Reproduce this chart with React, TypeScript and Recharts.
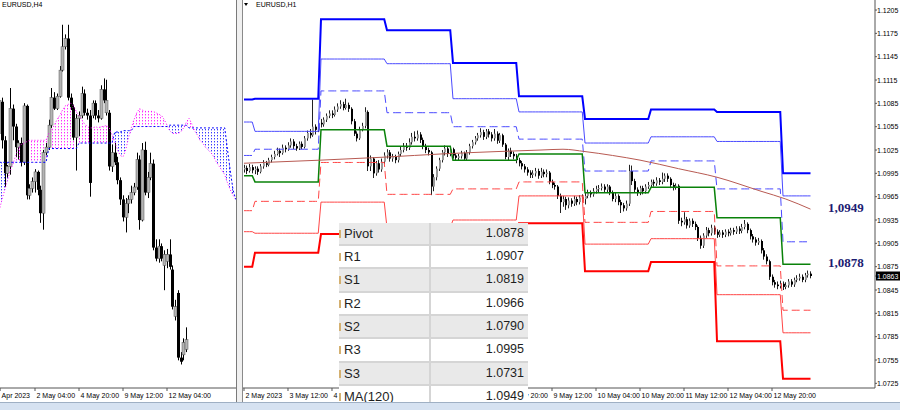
import React from 'react';
import { ComposedChart, Bar, Line, Area, XAxis, YAxis } from 'recharts';

// ---------- EURUSD H1 (right panel) ----------
// bars start at 2 May 20:00, one per hour, last bar 15 May 10:00
const h1FirstOpen = 1.1;
const h1Close = [
  1.1002, 1.0998, 1.1003, 1.0999, 1.1001, 1.0997, 1.1004, 1.1008, 1.1006, 1.1012,
  1.1016, 1.1020, 1.1024, 1.1021, 1.1028, 1.1026, 1.1031, 1.1036, 1.1030, 1.1027,
  1.1033, 1.1029, 1.1040, 1.1047, 1.1044, 1.1055, 1.1051, 1.1060, 1.1058, 1.1064,
  1.1069, 1.1072, 1.1070, 1.1077, 1.1081, 1.1084, 1.1079, 1.1083, 1.1078, 1.1062,
  1.1046, 1.1040, 1.1052, 1.1056, 1.1074, 1.1004, 1.1014, 1.0995, 1.1008, 1.1000,
  1.1010, 1.1018, 1.1022, 1.1014, 1.1016, 1.1012, 1.1020, 1.1025, 1.1030, 1.1028,
  1.1035, 1.1042, 1.1040, 1.1045, 1.1038, 1.1030, 1.1025, 1.1022, 1.0978, 1.0990,
  1.1001, 1.1012, 1.1022, 1.1027, 1.1020, 1.1026, 1.1018, 1.1015, 1.1017, 1.1021,
  1.1014, 1.1022, 1.1030, 1.1035, 1.1040, 1.1044, 1.1048, 1.1042, 1.1049, 1.1045,
  1.1040, 1.1046, 1.1037, 1.1044, 1.1032, 1.1016, 1.1024, 1.1020, 1.1017, 1.1012,
  1.1008, 1.1004, 1.1000, 1.0996, 1.0993, 1.0995, 1.0998, 1.0992, 1.0997, 1.0994,
  1.0996, 1.0984, 1.0980, 1.0978, 1.0966, 1.0958, 1.0962, 1.0954, 1.0960, 1.0956,
  1.0962, 1.0958, 1.0964, 1.0962, 1.0966, 1.0970, 1.0968, 1.0972, 1.0975, 1.0976,
  1.0978, 1.0974, 1.0978, 1.0970, 1.0962, 1.0966, 1.0958, 1.0954, 1.0950, 1.0956,
  1.0998, 1.0985, 1.0974, 1.0970, 1.0976, 1.0972, 1.0978, 1.0980, 1.0984, 1.0982,
  1.0986, 1.0984, 1.0988, 1.0992, 1.0988, 1.0980, 1.0977, 1.0979, 1.0934, 1.0932,
  1.0936, 1.0928, 1.0934, 1.0930, 1.0926, 1.0912, 1.0902, 1.0915, 1.0922, 1.0918,
  1.0925, 1.0920, 1.0916, 1.0919, 1.0916, 1.0920, 1.0918, 1.0922, 1.0920, 1.0924,
  1.0921, 1.0926, 1.0930, 1.0922, 1.0914, 1.0910, 1.0906, 1.0908, 1.0896, 1.0888,
  1.0882, 1.0862, 1.0855, 1.0852, 1.0850, 1.0853, 1.0849, 1.0851, 1.0856, 1.0852,
  1.0858, 1.0860, 1.0862, 1.0858, 1.0864, 1.0866, 1.0863,
];
const h1High = [
  1.1006, 1.1005, 1.1007, 1.1006, 1.1004, 1.1004, 1.1007, 1.1012, 1.1011, 1.1015,
  1.1019, 1.1024, 1.1028, 1.1027, 1.1032, 1.1031, 1.1035, 1.1040, 1.1039, 1.1033,
  1.1036, 1.1036, 1.1043, 1.1050, 1.1052, 1.1090, 1.1058, 1.1063, 1.1065, 1.1067,
  1.1072, 1.1076, 1.1076, 1.1081, 1.1085, 1.1089, 1.1087, 1.1091, 1.1086, 1.1080,
  1.1065, 1.1049, 1.1055, 1.1060, 1.1080, 1.1076, 1.1018, 1.1016, 1.1011, 1.1012,
  1.1014, 1.1022, 1.1026, 1.1025, 1.1020, 1.1019, 1.1023, 1.1029, 1.1034, 1.1034,
  1.1040, 1.1047, 1.1049, 1.1050, 1.1048, 1.1041, 1.1033, 1.1028, 1.1024, 1.0994,
  1.1004, 1.1015, 1.1025, 1.1031, 1.1030, 1.1029, 1.1028, 1.1021, 1.1020, 1.1024,
  1.1023, 1.1025, 1.1033, 1.1038, 1.1043, 1.1047, 1.1053, 1.1051, 1.1052, 1.1052,
  1.1048, 1.1052, 1.1049, 1.1047, 1.1046, 1.1034, 1.1027, 1.1028, 1.1023, 1.1020,
  1.1015, 1.1011, 1.1007, 1.1003, 1.0999, 1.0999, 1.1002, 1.1001, 1.1002, 1.1000,
  1.1000, 1.0998, 1.0987, 1.0983, 1.0980, 1.0969, 1.0966, 1.0965, 1.0964, 1.0963,
  1.0966, 1.0965, 1.0967, 1.0968, 1.0970, 1.0974, 1.0973, 1.0976, 1.0979, 1.0980,
  1.0982, 1.0981, 1.0981, 1.0980, 1.0973, 1.0970, 1.0968, 1.0961, 1.0957, 1.0960,
  1.1006, 1.1005, 1.0988, 1.0977, 1.0979, 1.0979, 1.0981, 1.0984, 1.0987, 1.0987,
  1.0990, 1.0989, 1.0996, 1.0995, 1.0995, 1.0990, 1.0983, 1.0982, 1.0981, 1.0938,
  1.0945, 1.0939, 1.0937, 1.0937, 1.0933, 1.0928, 1.0915, 1.0918, 1.0926, 1.0925,
  1.0929, 1.0928, 1.0923, 1.0922, 1.0922, 1.0923, 1.0923, 1.0925, 1.0925, 1.0927,
  1.0927, 1.0930, 1.0935, 1.0932, 1.0924, 1.0917, 1.0913, 1.0912, 1.0910, 1.0899,
  1.0891, 1.0884, 1.0865, 1.0858, 1.0856, 1.0857, 1.0856, 1.0855, 1.0859, 1.0859,
  1.0861, 1.0864, 1.0866, 1.0865, 1.0867, 1.0870, 1.0869,
];
const h1Low = [
  1.0996, 1.0994, 1.0996, 1.0995, 1.0994, 1.0993, 1.0995, 1.1001, 1.1003, 1.1004,
  1.1009, 1.1013, 1.1018, 1.1016, 1.1019, 1.1022, 1.1024, 1.1028, 1.1026, 1.1024,
  1.1025, 1.1026, 1.1027, 1.1037, 1.1040, 1.1042, 1.1045, 1.1048, 1.1054, 1.1055,
  1.1061, 1.1066, 1.1066, 1.1068, 1.1074, 1.1078, 1.1076, 1.1077, 1.1074, 1.1058,
  1.1043, 1.1036, 1.1038, 1.1049, 1.1053, 1.0998, 1.0998, 1.0989, 1.0992, 1.0996,
  1.0997, 1.1007, 1.1014, 1.1010, 1.1010, 1.1008, 1.1009, 1.1017, 1.1022, 1.1024,
  1.1025, 1.1032, 1.1036, 1.1037, 1.1034, 1.1026, 1.1021, 1.1018, 1.0967, 1.0972,
  1.0986, 1.0998, 1.1009, 1.1018, 1.1016, 1.1017, 1.1014, 1.1011, 1.1012, 1.1014,
  1.1011, 1.1012, 1.1019, 1.1027, 1.1032, 1.1037, 1.1041, 1.1038, 1.1039, 1.1041,
  1.1036, 1.1037, 1.1033, 1.1034, 1.1029, 1.1013, 1.1012, 1.1016, 1.1013, 1.1008,
  1.1004, 1.1000, 1.0996, 1.0992, 1.0989, 1.0989, 1.0991, 1.0988, 1.0989, 1.0990,
  1.0990, 1.0981, 1.0976, 1.0974, 1.0962, 1.0944, 1.0952, 1.0948, 1.0950, 1.0952,
  1.0953, 1.0954, 1.0955, 1.0958, 1.0955, 1.0963, 1.0964, 1.0965, 1.0969, 1.0971,
  1.0973, 1.0971, 1.0971, 1.0967, 1.0959, 1.0958, 1.0954, 1.0944, 1.0946, 1.0947,
  1.0953, 1.0980, 1.0970, 1.0966, 1.0967, 1.0968, 1.0969, 1.0975, 1.0977, 1.0978,
  1.0979, 1.0980, 1.0981, 1.0984, 1.0984, 1.0976, 1.0973, 1.0974, 1.0930, 1.0927,
  1.0929, 1.0924, 1.0925, 1.0926, 1.0922, 1.0908, 1.0898, 1.0899, 1.0912, 1.0914,
  1.0915, 1.0916, 1.0912, 1.0913, 1.0912, 1.0913, 1.0914, 1.0915, 1.0916, 1.0917,
  1.0917, 1.0918, 1.0923, 1.0918, 1.0910, 1.0906, 1.0902, 1.0903, 1.0892, 1.0884,
  1.0878, 1.0858, 1.0851, 1.0848, 1.0846, 1.0847, 1.0845, 1.0846, 1.0848, 1.0849,
  1.0849, 1.0855, 1.0857, 1.0855, 1.0855, 1.0861, 1.0860,
];

// daily pivot levels: 2 May (tail), 3, 4, 5, 8, 9, 10, 11, 12, 15 May
const dayStart = [0, 4, 28, 52, 76, 100, 124, 148, 172, 196];
const pivotR3 = [1.109, 1.1091, 1.1193, 1.1179, 1.1137, 1.1094, 1.1065, 1.1077, 1.1074, 1.0995];
const pivotR2 = [1.1061, 1.1049, 1.1142, 1.1136, 1.1091, 1.1074, 1.1034, 1.1042, 1.1036, 1.0966];
const pivotR1 = [1.1018, 1.1026, 1.1101, 1.1073, 1.1055, 1.1039, 1.0998, 1.1011, 1.0975, 1.0907];
const pivotP = [1.0992, 1.0984, 1.1051, 1.103, 1.1012, 1.102, 1.097, 1.0977, 1.0938, 1.0878];
const pivotS1 = [1.0947, 1.0959, 1.1009, 1.0968, 1.0975, 1.0984, 1.0932, 1.0946, 1.0876, 1.0819];
const pivotS2 = [1.092, 1.0918, 1.0958, 1.0925, 1.0935, 1.0966, 1.0904, 1.0911, 1.0839, 1.079];
const pivotS3 = [1.0875, 1.0893, 1.0917, 1.088, 1.0895, 1.0931, 1.0869, 1.0881, 1.0779, 1.0731];

// MA(120) read at a few bars
const maBar = [0, 28, 52, 72, 92, 108, 116, 124, 134, 144, 158, 172, 188, 197, 206];
const maValue = [1.1008, 1.1012, 1.1016, 1.102, 1.1023, 1.1025, 1.1026, 1.1023, 1.1018, 1.1012, 1.1001, 1.099, 1.0972, 1.0962, 1.0949];

// labels that sit fully under the pivot table are not visible, so they are left out
const h1TickBar = [0, 16, 32, 96, 112, 128, 144, 160, 176, 192];
const h1TickLabel = [
  '2 May 2023', '3 May 12:00', '4 May 04:00', '8 May 20:00',
  '9 May 12:00', '10 May 04:00', '10 May 20:00', '11 May 12:00', '12 May 04:00', '12 May 20:00',
];
const priceTicks = [
  1.1205, 1.1175, 1.1145, 1.1115, 1.1085, 1.1055, 1.1025, 1.0995, 1.0965, 1.0935,
  1.0905, 1.0875, 1.0845, 1.0815, 1.0785, 1.0755, 1.0725,
];
const lastPrice = 1.0863;

// ---------- EURUSD H4 (left panel) ----------
// bar 0 = 28 Apr 00:00, bar 13 = 2 May 04:00
const h4Open = [
  1.1013, 1.1036, 1.1008, 1.0984, 1.0989, 1.1031, 1.1018, 1.1003, 1.1006, 1.0992,
  1.1033, 1.0968, 1.0973, 1.0978, 1.0985, 1.0972, 1.0955, 1.0999, 1.1003, 1.1019,
  1.1039, 1.1031, 1.104, 1.1059, 1.1076, 1.1082, 1.1039, 1.1032, 1.101, 1.1024,
  1.1026, 1.1042, 1.1028, 1.1026, 1.1026, 1.1035, 1.1026, 1.1024, 1.1045, 1.1028,
  1.1028, 1.0989, 1.0999, 1.0992, 1.0979, 1.0965, 1.0952, 1.0962, 1.0965, 1.097,
  1.0974, 1.0994, 1.095, 1.1001, 1.097, 1.0981, 1.0991, 1.093, 1.0922, 1.0931,
  1.0917, 1.092, 1.0925, 1.0914, 1.088, 1.0897, 1.085, 1.0852, 1.0856,
];
const h4High = [
  1.1039, 1.1039, 1.1011, 1.099, 1.1046, 1.1034, 1.102, 1.1008, 1.101, 1.1035,
  1.1034, 1.0976, 1.0981, 1.0987, 1.0986, 1.0975, 1.1001, 1.1006, 1.1023, 1.1046,
  1.1043, 1.1042, 1.1062, 1.1092, 1.1085, 1.1092, 1.1042, 1.1034, 1.1027, 1.1029,
  1.1047, 1.1045, 1.1031, 1.103, 1.1037, 1.1037, 1.103, 1.1048, 1.1053, 1.1052,
  1.103, 1.1005, 1.1006, 1.0996, 1.0981, 1.0968, 1.0966, 1.0968, 1.0975, 1.0977,
  1.0999, 1.0997, 1.1006, 1.1007, 1.0985, 1.0999, 1.0994, 1.0936, 1.0936, 1.0933,
  1.0928, 1.0929, 1.0936, 1.0917, 1.0892, 1.0899, 1.0854, 1.0864, 1.0872,
];
const h4Low = [
  1.101, 1.1002, 1.0974, 1.0981, 1.0983, 1.1008, 1.0996, 1.0994, 1.0989, 1.099,
  1.0965, 1.0965, 1.097, 1.097, 1.0968, 1.0948, 1.0943, 1.0997, 1.1001, 1.1017,
  1.103, 1.103, 1.1039, 1.1058, 1.1074, 1.1037, 1.103, 1.1008, 1.0986, 1.1011,
  1.1024, 1.1026, 1.1023, 1.0967, 1.1024, 1.1023, 1.1021, 1.1023, 1.1035, 1.1026,
  1.0986, 1.0985, 1.099, 1.0976, 1.0961, 1.0949, 1.0941, 1.0955, 1.0962, 1.0968,
  1.0972, 1.0943, 1.0949, 1.0968, 1.0966, 1.0979, 1.0928, 1.092, 1.0919, 1.092,
  1.0899, 1.0915, 1.0914, 1.0885, 1.0877, 1.0848, 1.0845, 1.0848, 1.0854,
];
const h4Close = [
  1.1037, 1.1008, 1.0984, 1.0989, 1.1031, 1.1018, 1.1003, 1.1006, 1.0992, 1.1033,
  1.0968, 1.0973, 1.0978, 1.0985, 1.0972, 1.0955, 1.0999, 1.1003, 1.1019, 1.1039,
  1.1031, 1.104, 1.1059, 1.1076, 1.1082, 1.1039, 1.1032, 1.101, 1.1024, 1.1026,
  1.1042, 1.1028, 1.1026, 1.0977, 1.1035, 1.1026, 1.1024, 1.1045, 1.1037, 1.1037,
  1.0989, 1.0999, 1.0992, 1.0979, 1.0965, 1.0952, 1.0962, 1.0965, 1.097, 1.0974,
  1.0994, 1.095, 1.1001, 1.097, 1.0981, 1.0991, 1.093, 1.0922, 1.0931, 1.0922,
  1.0925, 1.0925, 1.0916, 1.0887, 1.0887, 1.085, 1.0847, 1.0861, 1.0863,
];
// Ichimoku cloud spans, bars 0..86 (shifted forward past the last candle)
const senkouA = [
  1.0957, 1.0965, 1.0972, 1.0979, 1.0986, 1.0991, 1.0997, 1.1002, 1.1005, 1.1006,
  1.1007, 1.1008, 1.1008, 1.1008, 1.1008, 1.1008, 1.1008, 1.1008, 1.1013, 1.1015,
  1.1019, 1.1023, 1.1026, 1.103, 1.1033, 1.1034, 1.1035, 1.1033, 1.1029, 1.1026,
  1.1023, 1.102, 1.1018, 1.1017, 1.1017, 1.1018, 1.1017, 1.1018, 1.1018, 1.1019,
  1.1017, 1.1012, 1.1007, 1.1001, 1.0997, 1.0996, 1.1001, 1.101, 1.1017, 1.1023,
  1.1028, 1.1031, 1.103, 1.1029, 1.1029, 1.1029, 1.1029, 1.1028, 1.1027, 1.1026,
  1.1023, 1.1019, 1.1015, 1.1013, 1.1013, 1.1013, 1.1014, 1.1017, 1.1021, 1.1024,
  1.102, 1.1015, 1.1012, 1.1008, 1.1006, 1.1003, 1.1001, 1.0999, 1.0996, 1.0992,
  1.0989, 1.0986, 1.0983, 1.0977, 1.0972, 1.0968, 1.0965,
];
const senkouB = [
  1.0992, 1.0992, 1.0992, 1.0992, 1.0992, 1.0992, 1.0992, 1.0992, 1.0992, 1.0992,
  1.0992, 1.0992, 1.0992, 1.0992, 1.0992, 1.0992, 1.0992, 1.0992, 1.1002, 1.1002,
  1.1002, 1.1002, 1.1002, 1.1002, 1.1002, 1.1002, 1.1002, 1.1002, 1.1002, 1.1006,
  1.1006, 1.1006, 1.1006, 1.1006, 1.1006, 1.1006, 1.1006, 1.1006, 1.1006, 1.1006,
  1.1006, 1.1006, 1.1014, 1.1014, 1.1014, 1.1015, 1.1015, 1.1015, 1.1015, 1.1018,
  1.1018, 1.1018, 1.1018, 1.1018, 1.1018, 1.1018, 1.1018, 1.1018, 1.1018, 1.1018,
  1.1018, 1.1018, 1.1019, 1.1019, 1.1019, 1.1019, 1.1019, 1.1019, 1.1019, 1.1017,
  1.1017, 1.1017, 1.1017, 1.1017, 1.1017, 1.1017, 1.1017, 1.1017, 1.1017, 1.1017,
  1.1017, 1.1017, 1.1017, 1.1001, 1.0986, 1.0972, 1.0965,
];
const h4TickBar = [0.3, 13, 29, 45, 61];
const h4TickLabel = ['Apr 2023', '2 May 04:00', '4 May 20:00', '9 May 12:00', '12 May 04:00'];

const tableNames = ['Pivot', 'R1', 'S1', 'R2', 'S2', 'R3', 'S3', 'MA(120)'];

// ---------- build rows ----------
const last = dayStart.length - 1;
const h1Rows = h1Close.map((close, i) => {
  const d = dayStart.filter((s) => s <= i).length - 1;
  const m = maBar.indexOf(i);
  return {
    i,
    open: i === 0 ? h1FirstOpen : h1Close[i - 1],
    high: h1High[i],
    low: h1Low[i],
    close,
    r3: pivotR3[d], r2: pivotR2[d], r1: pivotR1[d], p: pivotP[d],
    s1: pivotS1[d], s2: pivotS2[d], s3: pivotS3[d],
    ma: m >= 0 ? maValue[m] : null,
  };
});

const h4Rows = senkouA.map((a, k) => ({
  k,
  spanA: a,
  spanB: senkouB[k],
  open: k < h4Close.length ? h4Open[k] : null,
  high: k < h4Close.length ? h4High[k] : null,
  low: k < h4Close.length ? h4Low[k] : null,
  close: k < h4Close.length ? h4Close[k] : null,
}));

const tableValues = [
  pivotP[last], pivotR1[last], pivotS1[last], pivotR2[last], pivotS2[last],
  pivotR3[last], pivotS3[last], maValue[maValue.length - 1],
];

// ---------- layout constants ----------
const FONT = '"Liberation Sans", Arial, sans-serif';
const PLOT_H = 388;
const h1Domain = [1.0719, 1.12179];
const h4Domain = [1.08279, 1.111];
const priceToY = (p: number) => ((h1Domain[1] - p) / (h1Domain[1] - h1Domain[0])) * PLOT_H;

type CandleStyle = { body: number; bull: string; bear: string; wick: string; bullStroke?: string };

function candleShape(style: CandleStyle) {
  return (props: any) => {
    const { x, y, width, height, payload } = props;
    if (!payload || payload.high == null) return <g />;
    const top = Math.min(y, y + height);
    const span = Math.abs(height);
    const hi = payload.high;
    const lo = payload.low;
    const toY = (v: number) =>
      hi > lo ? top + ((hi - Math.min(hi, Math.max(lo, v))) / (hi - lo)) * span : top;
    const cx = Math.round(x + width / 2);
    const yo = toY(payload.open);
    const yc = toY(payload.close);
    const bull = payload.close >= payload.open;
    const bodyTop = Math.min(yo, yc);
    const bodyH = Math.max(1, Math.abs(yo - yc));
    const bx = style.body === 3 ? cx - 1 : cx;
    return (
      <g>
        <line x1={cx + 0.5} x2={cx + 0.5} y1={top} y2={top + span} stroke={style.wick} strokeWidth={1} />
        <rect
          x={bx}
          y={bodyTop}
          width={style.body}
          height={bodyH}
          fill={bull ? style.bull : style.bear}
          stroke={bull && style.bullStroke ? style.bullStroke : 'none'}
          strokeWidth={0.5}
        />
      </g>
    );
  };
}

const timeTick = (bars: number[], labels: string[]) => (props: any) => {
  const { x, y, payload } = props;
  const idx = bars.indexOf(payload.value);
  return (
    <text x={x + 1.5} y={y + 4.5} fontSize={7} fill="#000" fontFamily={FONT}>
      {idx >= 0 ? labels[idx] : ''}
    </text>
  );
};

const priceTick = (props: any) => {
  const { x, y, payload } = props;
  const v = payload.value as number;
  if (v === lastPrice) {
    return (
      <g>
        <rect x={x - 3} y={y - 4.5} width={26} height={9} fill="#000" />
        <text x={x - 2} y={y + 2.5} fontSize={7} fill="#fff" fontFamily={FONT}>{v.toFixed(4)}</text>
      </g>
    );
  }
  return (
    <text x={x - 2} y={y + 2.5} fontSize={7} fill="#000" fontFamily={FONT}>{v.toFixed(4)}</text>
  );
};

const pivotLines = [
  { key: 'r3', color: '#0000ff', width: 2, dash: undefined },
  { key: 'r2', color: '#4b4bff', width: 1, dash: undefined },
  { key: 'r1', color: '#4b4bff', width: 1, dash: '8 4' },
  { key: 'p', color: '#0a820a', width: 1.5, dash: undefined },
  { key: 's1', color: '#ff4646', width: 1, dash: '8 4' },
  { key: 's2', color: '#ff4646', width: 1, dash: undefined },
  { key: 's3', color: '#ff0000', width: 2, dash: undefined },
];

export default function App() {
  const zero = { top: 0, right: 0, bottom: 0, left: 0 };
  return (
    <div
      style={{
        position: 'relative', width: 900, height: 410, overflow: 'hidden',
        background: '#fff', fontFamily: FONT,
      }}
    >
      <style>{'body{margin:0}'}</style>

      {/* H4 panel with Ichimoku cloud */}
      <div style={{ position: 'absolute', left: 0, top: 0 }}>
        <ComposedChart width={236} height={402} data={h4Rows} margin={zero}>
          <defs>
            <pattern id="kumoMagenta" width="3" height="3" patternUnits="userSpaceOnUse">
              <rect x="1" y="0" width="1" height="1.4" fill="#ff2cff" />
            </pattern>
            <pattern id="kumoBlue" width="3" height="3" patternUnits="userSpaceOnUse">
              <rect x="1" y="0" width="1" height="1.4" fill="#3a3aff" />
            </pattern>
          </defs>
          <XAxis
            type="number" dataKey="k" domain={[0.27, 86.09]} allowDataOverflow
            ticks={h4TickBar} interval={0} height={14} tickSize={3}
            axisLine={{ stroke: '#555' }} tickLine={{ stroke: '#555' }}
            tick={timeTick(h4TickBar, h4TickLabel)}
          />
          <YAxis hide type="number" domain={h4Domain} allowDataOverflow />
          <Area
            type="linear" isAnimationActive={false} stroke="none" fill="url(#kumoBlue)" fillOpacity={1}
            dataKey={(r: any) => (r.spanB > r.spanA ? [r.spanA, r.spanB] : [r.spanB, r.spanB])}
          />
          <Area
            type="linear" isAnimationActive={false} stroke="none" fill="url(#kumoMagenta)" fillOpacity={1}
            dataKey={(r: any) => (r.spanA >= r.spanB ? [r.spanB, r.spanA] : [r.spanA, r.spanA])}
          />
          <Line type="linear" dataKey="spanA" stroke="#ff00ff" strokeWidth={1} strokeDasharray="1 2" dot={false} isAnimationActive={false} />
          <Line type="linear" dataKey="spanB" stroke="#0000ff" strokeWidth={1} strokeDasharray="2 2" dot={false} isAnimationActive={false} />
          <Bar
            dataKey={(r: any) => (r.high == null ? null : [r.low, r.high])}
            barSize={3} isAnimationActive={false}
            shape={candleShape({ body: 3, bull: '#b4b4b4', bear: '#000', wick: '#000', bullStroke: '#555' })}
          />
        </ComposedChart>
      </div>
      <div style={{ position: 'absolute', left: 2, top: 0, fontSize: 7, lineHeight: '9px', color: '#000' }}>EURUSD,H4</div>

      {/* panel separator */}
      <div style={{ position: 'absolute', left: 236, top: 0, width: 1, height: 402, background: '#7a7a7a' }} />
      <div style={{ position: 'absolute', left: 237, top: 0, width: 5, height: 402, background: '#f0f0f0' }} />
      <div style={{ position: 'absolute', left: 242, top: 0, width: 1, height: 402, background: '#8a8a8a' }} />

      {/* H1 panel with pivots and MA */}
      <div style={{ position: 'absolute', left: 243, top: 0 }}>
        <ComposedChart width={657} height={402} data={h1Rows} margin={zero}>
          <XAxis
            type="number" dataKey="i" domain={[-0.36, 229.45]} allowDataOverflow
            ticks={h1TickBar} interval={0} height={14} tickSize={3}
            axisLine={{ stroke: '#555' }} tickLine={{ stroke: '#555' }}
            tick={timeTick(h1TickBar, h1TickLabel)}
          />
          <YAxis
            orientation="right" type="number" domain={h1Domain} allowDataOverflow
            ticks={[...priceTicks, lastPrice]} interval={0} width={25} tickSize={2}
            axisLine={{ stroke: '#555' }} tickLine={{ stroke: '#555' }} tick={priceTick}
          />
          <Bar
            dataKey={(r: any) => [r.low, r.high]}
            barSize={2} isAnimationActive={false}
            shape={candleShape({ body: 2, bull: '#9a9a9a', bear: '#000', wick: '#222' })}
          />
          {pivotLines.map((pl) => (
            <Line
              key={pl.key} type="linear" dataKey={pl.key} stroke={pl.color} strokeWidth={pl.width}
              strokeDasharray={pl.dash} dot={false} activeDot={false} isAnimationActive={false}
            />
          ))}
          <Line
            type="monotone" dataKey="ma" connectNulls stroke="#b85a52" strokeWidth={1}
            dot={false} activeDot={false} isAnimationActive={false}
          />
        </ComposedChart>
      </div>
      <div style={{ position: 'absolute', left: 244, top: 3, width: 0, height: 0, borderLeft: '2.5px solid transparent', borderRight: '2.5px solid transparent', borderTop: '3px solid #000' }} />
      <div style={{ position: 'absolute', left: 256, top: 0, fontSize: 7, lineHeight: '9px', color: '#000' }}>EURUSD,H1</div>

      {/* level labels at the right */}
      {[maValue[maValue.length - 1], pivotP[last]].map((v) => (
        <div
          key={v}
          style={{
            position: 'absolute', left: 828, top: priceToY(v) - 9, fontFamily: '"Liberation Serif", "Times New Roman", serif',
            fontWeight: 'bold', fontSize: 13, lineHeight: '16px', color: '#1c1c72',
          }}
        >
          {v.toFixed(4).replace('.', ',')}
        </div>
      ))}

      {/* pivot table */}
      <div style={{ position: 'absolute', left: 339, top: 222.7, width: 189 }}>
        {tableNames.map((name, r) => (
          <div
            key={name}
            style={{
              display: 'flex', height: 23.33, boxSizing: 'border-box',
              background: r % 2 === 0 ? '#e9e9e9' : '#ffffff', borderBottom: '2px solid #d5d5d5',
            }}
          >
            <div
              style={{
                position: 'relative', width: 92, boxSizing: 'border-box', paddingLeft: 5,
                borderRight: '2px solid #d5d5d5', fontSize: 13, lineHeight: '21px', color: '#1e1e1e',
              }}
            >
              <span style={{ position: 'absolute', left: 0, top: 7, width: 2, height: 8, background: '#d4b070' }} />
              {name}
            </div>
            <div style={{ flex: 1, textAlign: 'right', paddingRight: 4, fontSize: 12.5, lineHeight: '21px', color: '#1e1e1e' }}>
              {tableValues[r].toFixed(4)}
            </div>
          </div>
        ))}
      </div>

      {/* window bottom strip */}
      <div style={{ position: 'absolute', left: 0, top: 402, width: 900, height: 8, background: '#d6e2f1', borderTop: '1px solid #9fb0c4', boxSizing: 'border-box' }} />
    </div>
  );
}
